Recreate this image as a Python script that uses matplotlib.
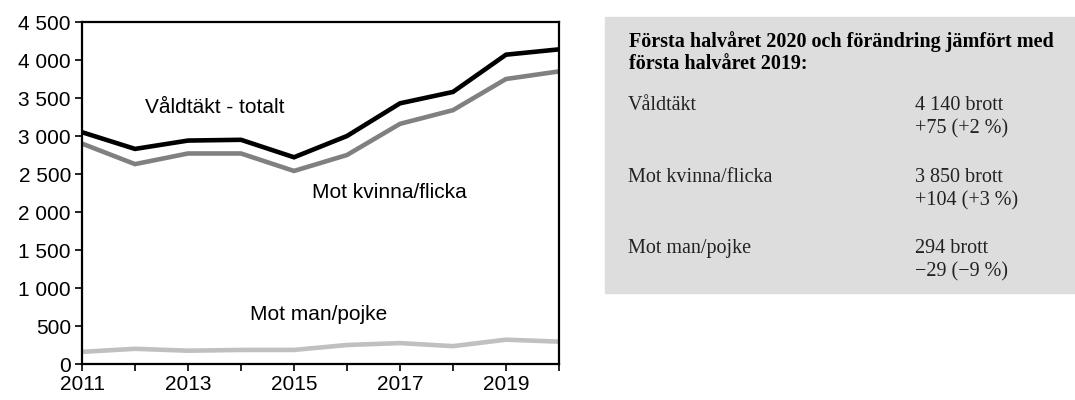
import matplotlib.pyplot as plt
from matplotlib.patches import Rectangle

years = list(range(2011, 2021))
totalt = [3050, 2830, 2940, 2950, 2720, 3000, 3430, 3580, 4070, 4140]
kvinna = [2900, 2630, 2770, 2770, 2540, 2750, 3160, 3340, 3750, 3850]
man = [160, 200, 175, 185, 185, 250, 275, 235, 320, 294]

x_ticks = [2011, 2013, 2015, 2017, 2019]
y_ticks = [0, 500, 1000, 1500, 2000, 2500, 3000, 3500, 4000, 4500]

box_title = ["Första halvåret 2020 och förändring jämfört med", "första halvåret 2019:"]
box_rows = [
    ("Våldtäkt", "4 140 brott", "+75 (+2 %)"),
    ("Mot kvinna/flicka", "3 850 brott", "+104 (+3 %)"),
    ("Mot man/pojke", "294 brott", "\u221229 (\u22129 %)"),
]

plt.rcParams['font.family'] = ['Liberation Sans', 'DejaVu Sans']

W, H = 1075, 400
fig = plt.figure(figsize=(W / 100, H / 100), dpi=100)
ax = fig.add_axes([82 / W, 1 - 364 / H, (559 - 82) / W, (364 - 22) / H])

ax.plot(years, totalt, color="black", lw=3.3, solid_joinstyle="miter")
ax.plot(years, kvinna, color="#808080", lw=3.3, solid_joinstyle="miter")
ax.plot(years, man, color="#c0c0c0", lw=3.3, solid_joinstyle="miter")

ax.set_xlim(2011, 2020)
ax.set_ylim(0, 4500)
ax.set_xticks(years)
ax.set_xticklabels([str(y) if y in x_ticks else "" for y in years])
ax.set_yticks(y_ticks)
ax.set_yticklabels([f"{v:,}".replace(",", " ") for v in y_ticks])
ax.tick_params(labelsize=15, width=1.2, length=5, color="black", pad=3)
for s in ax.spines.values():
    s.set_linewidth(1.6)

ax.text(2012.19, 3380, "Våldtäkt - totalt", fontsize=15, va="center")
ax.text(2015.34, 2250, "Mot kvinna/flicka", fontsize=15, va="center")
ax.text(2014.17, 645, "Mot man/pojke", fontsize=15, va="center")

# grey info box
fig.patches.append(Rectangle((605 / W, 1 - 293 / H), (1075 - 605) / W, (293 - 17) / H,
                             transform=fig.transFigure, color="#dddddd", zorder=0))

serif = ['Liberation Serif', 'DejaVu Serif']
fs = 14.5
fig.text(629 / W, 1 - 47 / H, box_title[0], family=serif, fontsize=fs,
         fontweight="bold", va="baseline")
fig.text(629 / W, 1 - 69 / H, box_title[1], family=serif, fontsize=fs,
         fontweight="bold", va="baseline")
row_y = [110, 182, 253]
for (name, val, change), y in zip(box_rows, row_y):
    fig.text(628 / W, 1 - y / H, name, family=serif, fontsize=fs, va="baseline", color="#222222")
    fig.text(915 / W, 1 - y / H, val, family=serif, fontsize=fs, va="baseline", color="#222222")
    fig.text(915 / W, 1 - (y + 23) / H, change, family=serif, fontsize=fs, va="baseline", color="#222222")

fig.savefig("out.png", dpi=100)
